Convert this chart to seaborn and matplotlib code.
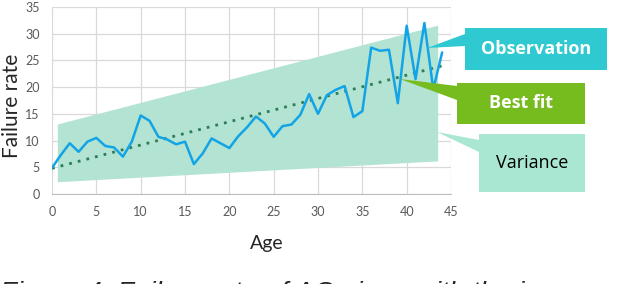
# %%
# Failure rate of AC pipes vs age - observation, best fit and variance band

import numpy as np
import pandas as pd
import matplotlib
matplotlib.use("Agg")
import matplotlib.pyplot as plt
from matplotlib.patches import Polygon, Rectangle
import seaborn as sns

# %%
# dados

idade = list(range(0, 45))
taxa_falha = [4.9, 7.3, 9.5, 7.9, 9.8, 10.5, 9.0, 8.7, 7.0, 9.8,
              14.7, 13.7, 10.7, 10.2, 9.3, 9.8, 5.6, 7.6, 10.4, 9.5,
              8.6, 10.8, 12.5, 14.5, 13.2, 10.7, 12.7, 13.0, 14.8, 18.7,
              15.0, 18.5, 19.5, 20.2, 14.4, 15.5, 27.4, 26.8, 27.0, 17.0,
              31.5, 21.5, 32.0, 19.6, 26.5]

# faixa de variancia (bordas da area sombreada)
var_idade = [0.6, 43.5]
var_inferior = [2.3, 6.2]
var_superior = [13.1, 31.6]

ticks_x = [0, 5, 10, 15, 20, 25, 30, 35, 40, 45]
ticks_y = [0, 5, 10, 15, 20, 25, 30, 35]

legenda = ["Observation", "Best fit", "Variance"]

df = pd.DataFrame({"Age": idade, "Failure rate": taxa_falha})

# %%
# grafico

sns.set_style("whitegrid")
plt.rcParams['font.family'] = ['Lato', 'DejaVu Sans']

W, H = 620, 284
fig = plt.figure(figsize=(W / 100, H / 100), dpi=100)
ax = fig.add_axes([52 / W, 1 - 194 / H, (451 - 52) / W, (194 - 7) / H])


def px(x, y):
    # pixel (origem no topo) -> fracao da figura
    return (x / W, 1 - y / H)


ax.fill_between(var_idade, var_inferior, var_superior,
                color="#b3e3d2", lw=0, zorder=1)
sns.lineplot(data=df, x="Age", y="Failure rate", ax=ax,
             color="#12a4e6", lw=1.8, zorder=3)
sns.regplot(data=df, x="Age", y="Failure rate", ax=ax, scatter=False,
            ci=None, truncate=True,
            line_kws=dict(color="#2c7d58", lw=2, ls=(0, (1, 2.2)), zorder=2))

ax.set_xlim(0, 45)
ax.set_ylim(0, 35)
ax.set_xticks(ticks_x)
ax.set_yticks(ticks_y)
ax.grid(color="#d9d9d9", lw=0.9)
for s in ["top", "right", "left"]:
    ax.spines[s].set_visible(False)
ax.spines["bottom"].set_color("#bfbfbf")
ax.tick_params(length=0, labelsize=9, colors="#595959")
ax.tick_params(axis="x", pad=9)
ax.tick_params(axis="y", pad=9)
ax.set_xlabel("Age", fontsize=14, va="center")
ax.set_ylabel("Failure rate", fontsize=15, va="center")
ax.xaxis.set_label_coords((267 - 52) / 399, (194 - 243) / 187)
ax.yaxis.set_label_coords((12 - 52) / 399, (194 - 106) / 187)

# %%
# caixas de legenda com ponteiros

caixas = [
    # texto, cor, cor do texto, negrito, caixa (x0, y0, x1, y1), ponteiro
    (legenda[0], "#2ec9d1", "white", "bold", (465, 28, 607, 70),
     [(427, 48), (465, 34), (465, 46)]),
    (legenda[1], "#77bc1f", "white", "bold", (457, 83, 585, 124),
     [(400, 79), (457, 86), (457, 100)]),
    (legenda[2], "#a9e7d3", "black", "normal", (479, 134, 585, 192),
     [(437, 132), (479, 140), (479, 152)]),
]

for texto, cor, cor_txt, peso, (x0, y0, x1, y1), ponta in caixas:
    fig.patches.append(Polygon([px(*p) for p in ponta], closed=True,
                               transform=fig.transFigure, color=cor, lw=0))
    fig.patches.append(Rectangle(px(x0, y1), (x1 - x0) / W, (y1 - y0) / H,
                                 transform=fig.transFigure, color=cor, lw=0))
    fig.text(*px((x0 + x1) / 2, (y0 + y1) / 2), texto, color=cor_txt,
             fontsize=13, fontweight=peso, ha="center", va="center",
             family=["Open Sans", "DejaVu Sans"])

fig.text(*px(0, 281), "Figure 4: Failure rate of AC pipes with the increase",
         fontsize=20, style="italic", ha="left", va="top",
         family=["Liberation Sans", "DejaVu Sans"])

fig.savefig("out.png", dpi=100)
plt.close(fig)
